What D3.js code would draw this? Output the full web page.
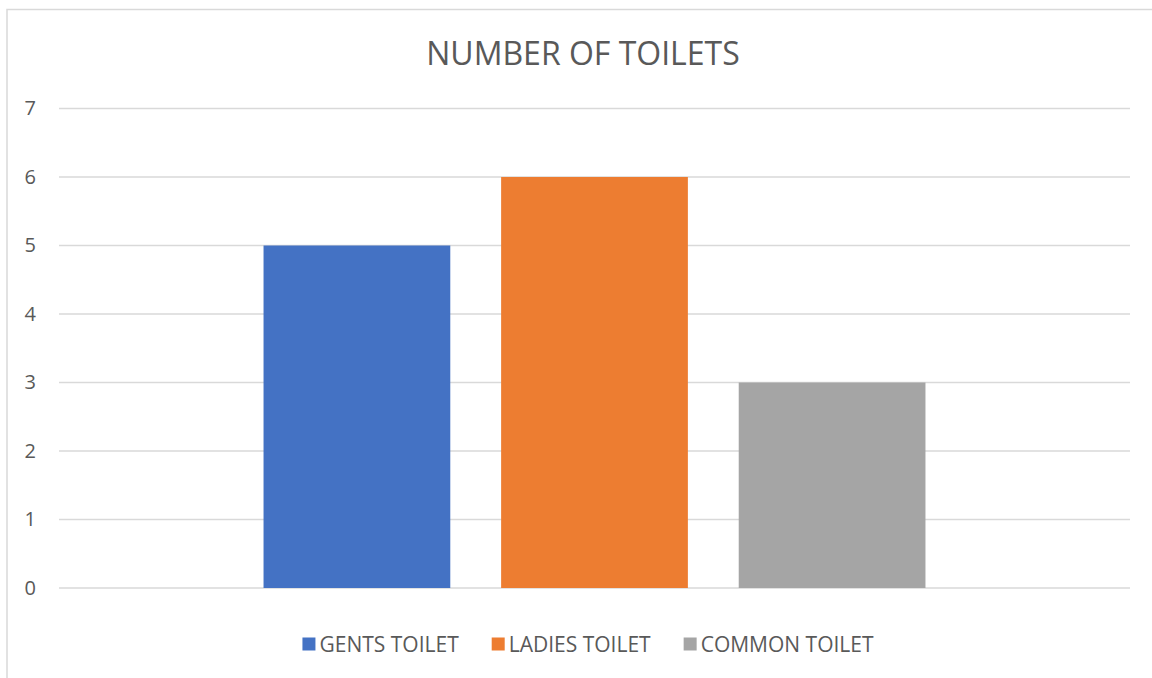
<!DOCTYPE html>
<html>
<head>
<meta charset="utf-8">
<script src="https://cdn.jsdelivr.net/npm/d3@7"></script>
<style>
  body { margin: 0; background: #fff; }
  text { font-family: "Open Sans", "Noto Sans", sans-serif; fill: #595959; }
</style>
</head>
<body>
<script>
// Data
var categories = [""];
var series = ["GENTS TOILET", "LADIES TOILET", "COMMON TOILET"];
var values = [5, 6, 3];
var colors = ["#4472c4", "#ed7d31", "#a5a5a5"];
var yTicks = [0, 1, 2, 3, 4, 5, 6, 7];

var W = 1152, H = 678,
	plot = {left: 59, right: 1130, top: 108.5, bottom: 588};

var svg = d3.select("body")
	.append("svg")
	.attr("width", W)
	.attr("height", H);

// Chart border (only left and top visible in the crop)
svg.append("rect")
	.attr("x", 7)
	.attr("y", 9.5)
	.attr("width", 1200)
	.attr("height", 700)
	.attr("fill", "none")
	.attr("stroke", "#d9d9d9")
	.attr("stroke-width", 1.5);

// Title
svg.append("text")
	.text("NUMBER OF TOILETS")
	.attr("x", 583)
	.attr("y", 65)
	.attr("font-size", "32px")
	.attr("text-anchor", "middle");

var y = d3.scaleLinear()
	.domain([0, 7])
	.range([plot.bottom, plot.top]);

var x0 = d3.scaleBand()
	.domain(categories)
	.range([plot.left, plot.right])
	.paddingInner(0)
	.paddingOuter(0.309);

var x1 = d3.scaleBand()
	.domain(series)
	.range([0, x0.bandwidth()])
	.paddingInner(0.214)
	.paddingOuter(0);

// Gridlines
svg.append("g")
	.selectAll("line")
	.data(yTicks)
	.enter()
	.append("line")
	.attr("x1", plot.left)
	.attr("x2", plot.right)
	.attr("y1", function(d) { return y(d); })
	.attr("y2", function(d) { return y(d); })
	.attr("stroke", "#d9d9d9")
	.attr("stroke-width", 1.5);

// Y axis labels
var yAxis = svg.append("g")
	.attr("transform", "translate(" + (plot.left - 23) + ",0)")
	.call(d3.axisLeft(y).tickValues(yTicks).tickSize(0).tickPadding(0).tickFormat(d3.format("d")));
yAxis.select(".domain").remove();
yAxis.selectAll("text")
	.attr("font-size", "20px")
	.attr("font-family", "\"Open Sans\", sans-serif")
	.attr("fill", "#595959");

// Bars
var grp = svg.append("g")
	.attr("transform", "translate(" + x0(categories[0]) + ",0)");
grp.selectAll("rect")
	.data(series)
	.enter()
	.append("rect")
	.attr("x", function(d) { return x1(d); })
	.attr("y", function(d, i) { return y(values[i]); })
	.attr("width", x1.bandwidth())
	.attr("height", function(d, i) { return y(0) - y(values[i]); })
	.attr("fill", function(d, i) { return colors[i]; });

// Legend
var legend = svg.append("g");
var items = legend.selectAll("g")
	.data(series)
	.enter()
	.append("g");
items.append("rect")
	.attr("width", 13)
	.attr("height", 13)
	.attr("y", 637.5)
	.attr("fill", function(d, i) { return colors[i]; });
items.append("text")
	.text(function(d) { return d; })
	.attr("x", 17)
	.attr("y", 651.5)
	.attr("font-size", "21px");

var pos = 0, offsets = [];
items.each(function() {
	offsets.push(pos);
	pos += 17 + d3.select(this).select("text").node().getComputedTextLength() + 33;
});
var total = pos - 33;
var start = 588 - total / 2;
items.attr("transform", function(d, i) { return "translate(" + (start + offsets[i]) + ",0)"; });
</script>
</body>
</html>
